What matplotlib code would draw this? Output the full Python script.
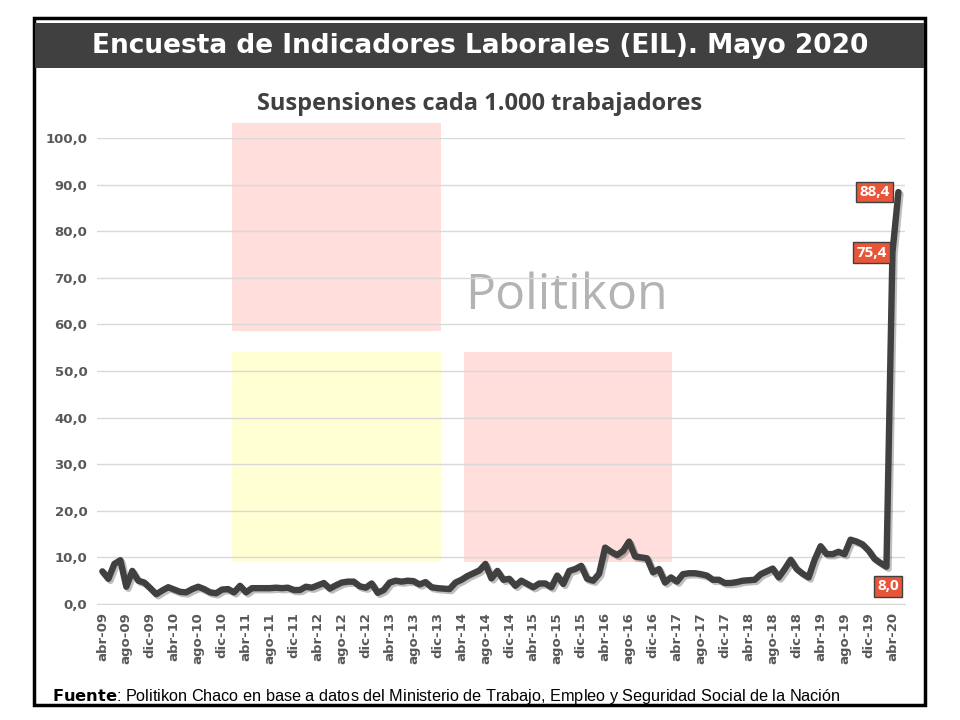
import matplotlib
matplotlib.use('Agg')
import matplotlib.pyplot as plt
import matplotlib.patheffects as pe
from matplotlib.patches import Rectangle

# datos: suspensiones cada 1.000 trabajadores, abr-09 a may-20 (mensual)
meses = ['ene', 'feb', 'mar', 'abr', 'may', 'jun', 'jul', 'ago', 'sep', 'oct', 'nov', 'dic']
suspensiones = [
    7.0, 5.4, 8.6, 9.4, 3.7, 7.1, 5.0, 4.6, 3.4, 2.1, 2.9, 3.6,
    3.1, 2.6, 2.5, 3.2, 3.7, 3.2, 2.5, 2.3, 3.1, 3.2, 2.5, 3.9,
    2.5, 3.4, 3.4, 3.4, 3.4, 3.5, 3.4, 3.5, 3.0, 3.0, 3.7, 3.5,
    4.0, 4.5, 3.3, 4.0, 4.6, 4.8, 4.8, 3.8, 3.5, 4.4, 2.4, 3.0,
    4.6, 5.0, 4.8, 5.0, 4.9, 4.2, 4.7, 3.6, 3.4, 3.3, 3.2, 4.6,
    5.2, 6.0, 6.6, 7.2, 8.6, 5.5, 7.1, 5.2, 5.4, 3.9, 5.0, 4.3,
    3.6, 4.4, 4.4, 3.6, 6.1, 4.3, 7.1, 7.5, 8.2, 5.4, 5.0, 6.5,
    12.1, 11.2, 10.5, 11.4, 13.4, 10.2, 10.0, 9.8, 6.8, 7.5, 4.6, 5.7,
    4.8, 6.4, 6.6, 6.6, 6.4, 6.1, 5.2, 5.2, 4.5, 4.5, 4.7, 5.0,
    5.1, 5.2, 6.4, 7.0, 7.6, 5.7, 7.5, 9.5, 7.5, 6.5, 5.7, 9.5,
    12.4, 10.7, 10.7, 11.2, 10.7, 13.8, 13.4, 12.8, 11.5, 9.7, 8.8, 8.0,
    75.4, 88.4,
]
mes_inicio = 3   # abr
anio_inicio = 2009
etiquetas_valor = {131: '8,0', 132: '75,4', 133: '88,4'}

n = len(suspensiones)
x = list(range(n))
fechas = []
for i in x:
    m = (mes_inicio + i) % 12
    a = anio_inicio + (mes_inicio + i) // 12
    fechas.append(f"{meses[m]}-{a % 100:02d}")

W, H = 960, 720
fig = plt.figure(figsize=(9.6, 7.2), dpi=100)
fig.patch.set_facecolor('white')

def fx(px):
    return px / W

def fy(py):
    return 1 - py / H

# marco y barra del titulo
fig.patches.append(Rectangle((fx(34), fy(705)), fx(891), 687 / H, transform=fig.transFigure,
                             fill=False, edgecolor='black', linewidth=2.5, zorder=0))
fig.patches.append(Rectangle((fx(35), fy(68)), fx(889), 45 / H, transform=fig.transFigure,
                             facecolor='#404040', edgecolor='none', zorder=1))
fig.text(0.5, fy(46), 'Encuesta de Indicadores Laborales (EIL). Mayo 2020', ha='center', va='center',
         color='white', fontsize=19, fontweight='heavy', family='DejaVu Sans')

# marca de agua
for (x0, y0, x1, y1, c) in [(232, 123, 441, 331, '#FFDEDB'),
                            (232, 352, 441, 562, '#FFFFD3'),
                            (464, 352, 672, 562, '#FFDEDB')]:
    fig.patches.append(Rectangle((fx(x0), fy(y1)), fx(x1 - x0), (y1 - y0) / H,
                                 transform=fig.transFigure, facecolor=c, edgecolor='none', zorder=0))
fig.text(fx(567), fy(296), 'Politikon', ha='center', va='center', color='#B3B3B3',
         fontsize=36, family='Open Sans', zorder=0.5)

ax = fig.add_axes([fx(97), fy(604), fx(905 - 97), (604 - 138) / H])
ax.set_facecolor('none')
ax.set_zorder(2)

ax.plot(x, suspensiones, color='#404040', linewidth=4.6, solid_joinstyle='round',
        solid_capstyle='round', zorder=3,
        path_effects=[pe.SimpleLineShadow(offset=(1.5, -1.5), alpha=0.25, shadow_color='black'),
                      pe.Normal()])

for i, txt in etiquetas_valor.items():
    if i == 131:
        off, ha, va = (1, -9), 'center', 'top'
    else:
        off, ha, va = (-6 if i == 133 else -4, 0), 'right', 'center'
    ax.annotate(txt, (i, suspensiones[i]), xytext=off, textcoords='offset points',
                ha=ha, va=va, color='white', fontsize=11, fontweight='bold', family='Open Sans',
                bbox=dict(boxstyle='square,pad=0.22', facecolor='#E8563A', edgecolor='#404040', linewidth=1),
                zorder=5)

ax.set_xlim(-0.9, 134.1)
ax.set_ylim(0, 100)
ax.set_yticks(range(0, 101, 10))
ax.set_yticklabels([f"{v},0" for v in range(0, 101, 10)])
ax.set_xticks(x[::4])
ax.set_xticklabels(fechas[::4], rotation=90)
ax.grid(axis='y', color='#D9D9D9', linewidth=1)
ax.set_axisbelow(True)
for s in ['top', 'right', 'left']:
    ax.spines[s].set_visible(False)
ax.spines['bottom'].set_color('#D9D9D9')
ax.tick_params(axis='both', length=0, colors='#595959')
for lab in ax.get_yticklabels():
    lab.set_fontweight('bold')
    lab.set_fontsize(9.5)
for lab in ax.get_xticklabels():
    lab.set_fontweight('bold')
    lab.set_fontsize(9.5)
ax.tick_params(axis='x', pad=6)
ax.tick_params(axis='y', pad=7)

fig.text(0.5, fy(104), 'Suspensiones cada 1.000 trabajadores', ha='center', va='center',
         color='#404040', fontsize=17, fontweight='bold', family='Open Sans')

fig.text(fx(52), fy(696), r'$\bf{Fuente}$: Politikon Chaco en base a datos del Ministerio de Trabajo, Empleo y Seguridad Social de la Nación',
         ha='left', va='center', color='black', fontsize=11.7, family='Liberation Sans')

fig.savefig('out.png', dpi=100)
